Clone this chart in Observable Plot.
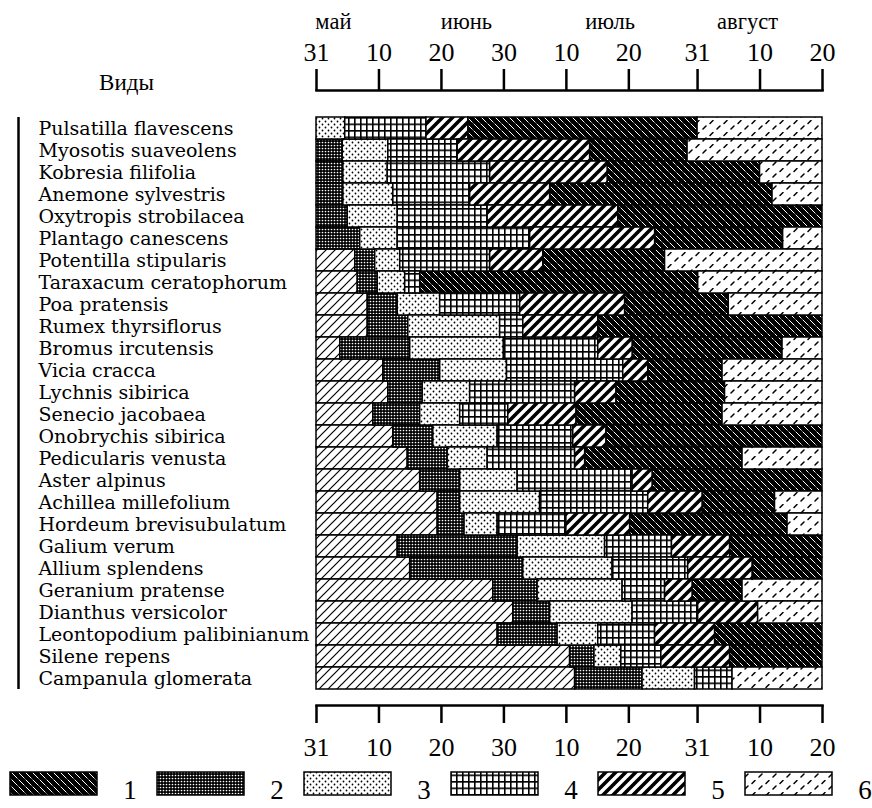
<!DOCTYPE html>
<html><head><meta charset="utf-8">
<script src="https://cdn.jsdelivr.net/npm/d3@7"></script>
<script src="https://cdn.jsdelivr.net/npm/@observablehq/plot@0.6"></script>
<style>body{margin:0;background:#fff;} #chart svg{display:block}</style>
</head><body><div id="chart"></div>
<script>
// Species (rows, top to bottom)
const species = [
  "Pulsatilla flavescens","Myosotis suaveolens","Kobresia filifolia","Anemone sylvestris",
  "Oxytropis strobilacea","Plantago canescens","Potentilla stipularis","Taraxacum ceratophorum",
  "Poa pratensis","Rumex thyrsiflorus","Bromus ircutensis","Vicia cracca","Lychnis sibirica",
  "Senecio jacobaea","Onobrychis sibirica","Pedicularis venusta","Aster alpinus",
  "Achillea millefolium","Hordeum brevisubulatum","Galium verum","Allium splendens",
  "Geranium pratense","Dianthus versicolor","Leontopodium palibinianum","Silene repens",
  "Campanula glomerata"
];
// Phase sequence of each species (0 = unmarked vegetation hatching, 1..6 = legend phases)
const phaseSeq = [
  [3,4,5,1,6],[2,3,4,5,1,6],[2,3,4,5,1,6],[2,3,4,5,1,6],[2,3,4,5,1],[2,3,4,5,1,6],
  [0,2,3,4,5,1,6],[0,2,3,4,1,6],[0,2,3,4,5,1,6],[0,2,3,4,5,1],[0,2,3,4,5,1,6],
  [0,2,3,4,5,1,6],[0,2,3,4,5,1,6],[0,2,3,4,5,1,6],[0,2,3,4,5,1],[0,2,3,4,5,1,6],
  [0,2,3,4,5,1],[0,2,3,4,5,1,6],[0,2,3,4,5,1,6],[0,2,3,4,5,1],[0,2,3,4,5,1],
  [0,2,3,4,5,1,6],[0,2,3,4,5,6],[0,2,3,4,5,1],[0,2,3,4,5,1],[0,2,3,4,6]
];
// End of each phase, days after 31 May (31 May = 0, 20 Aug = 81)
const phaseEnd = [
  [4.6,17.6,24.3,61,81],
  [4.2,11.5,22.6,43.8,59.4,81],
  [4.3,11.4,27.8,46.6,71,81],
  [4.3,12.3,24.6,37.4,73,81],
  [5,13,27.4,48.3,81],
  [7,13,34.2,54.2,74.7,81],
  [6.2,9.4,13.4,27.8,36.3,55.8,81],
  [6.6,9.8,14.2,16.6,61.1,81],
  [8.2,13,19.8,32.6,49.4,66,81],
  [8.2,14.7,29.4,33.1,45.1,81],
  [3.8,15,30,45.1,50.6,74.6,81],
  [10.7,19.8,30.5,49.1,53.1,65,81],
  [11.5,17,24.6,41.4,48,65.4,81],
  [9.1,16.6,23,30.7,41.6,65,81],
  [12.3,18.7,29,41.1,46.4,81],
  [14.6,21,27.4,41.4,43,68.2,81],
  [16.6,23,32.2,50.6,53.8,81],
  [19.4,23,35.8,53.1,61.8,73.4,81],
  [19.4,23.7,29,40,50.2,75.4,81],
  [13,32.2,46.2,56.9,66.2,81],
  [15,33.1,47.4,59.5,69.8,81],
  [28.3,35.4,49,55.8,60.2,68.2,81],
  [31.5,37.4,50.6,61.1,70.7,81],
  [29,38.6,45.1,54.2,63.8,81],
  [40.6,44.5,48.8,55.2,66.2,81],
  [41.4,52.2,60.6,66.6,81]
];
const tickDays = [0,10,20,30,40,50,61,71,81];
const tickLabels = ["31","10","20","30","10","20","31","10","20"];
const monthNames = ["май","июнь","июль","август"];
const monthDays = [2.7,24,47,69];
const legendKeys = ["1","2","3","4","5","6"];
const headerText = "Виды";

const segments = [];
species.forEach((s, i) => {
  let start = 0;
  phaseSeq[i].forEach((p, j) => {
    const end = phaseEnd[i][j];
    segments.push({species: s, phase: p, start, end});
    start = end;
  });
});
const labelOf = new Map(tickDays.map((d, i) => [d, tickLabels[i]]));
const months = monthDays.map((d, i) => ({day: d, name: monthNames[i]}));

const defs = `
<pattern id="ph0" patternUnits="userSpaceOnUse" width="9" height="9">
 <rect width="9" height="9" fill="#fff"/>
 <path d="M-1,1 l2,-2 M0,9 l9,-9 M8,10 l2,-2" stroke="#000" stroke-width="1.2"/>
</pattern>
<pattern id="ph1" patternUnits="userSpaceOnUse" width="7" height="7">
 <rect width="7" height="7" fill="#000"/>
 <path d="M0,0 L7,7 M-1,6 L1,8 M6,-1 L8,1" stroke="#fff" stroke-width="1" stroke-dasharray="5 1.5"/>
</pattern>
<pattern id="ph2" patternUnits="userSpaceOnUse" width="3" height="3">
 <rect width="3" height="3" fill="#000"/>
 <circle cx="1.5" cy="1.5" r="0.85" fill="#fff"/>
</pattern>
<pattern id="ph3" patternUnits="userSpaceOnUse" width="6" height="6">
 <rect width="6" height="6" fill="#fff"/>
 <circle cx="1.5" cy="1.5" r="0.9" fill="#000"/>
 <circle cx="4.5" cy="4.5" r="0.9" fill="#000"/>
</pattern>
<pattern id="ph4" patternUnits="userSpaceOnUse" width="6" height="6.5">
 <rect width="6" height="6.5" fill="#fff"/>
 <path d="M0,0.8 H6 M0.8,0 V6.5" stroke="#000" stroke-width="1.6"/>
</pattern>
<pattern id="ph5" patternUnits="userSpaceOnUse" width="10" height="10">
 <rect width="10" height="10" fill="#fff"/>
 <path d="M-3,3 l6,-6 M0,10 l10,-10 M7,13 l6,-6" stroke="#000" stroke-width="3.6"/>
</pattern>
<pattern id="ph6" patternUnits="userSpaceOnUse" width="14" height="12">
 <rect width="14" height="12" fill="#fff"/>
 <path d="M3,9 l3,-3 M10,3.5 l3,-3" stroke="#000" stroke-width="1.5" stroke-linecap="round"/>
</pattern>`;

const W = 872, H = 768;
const font = "'Liberation Serif', 'Times New Roman', serif";
const labelFont = "'DejaVu Serif', serif";
const chart = Plot.plot({
  width: W, height: H,
  marginLeft: 316, marginRight: 50, marginTop: 90, marginBottom: H - 705,
  style: {fontFamily: font, color: "#000", background: "#fff", overflow: "visible"},
  x: {domain: [0, 81], axis: null},
  y: {domain: species, padding: 0, insetTop: 22, insetBottom: 12, axis: null},
  marks: [
    ...[0,1,2,3,4,5,6].map(p => Plot.barX(segments.filter(d => d.phase === p), {
      x1: "start", x2: "end", y: "species", fill: `url(#ph${p})`, stroke: "#000", strokeWidth: 1.5
    })),
    Plot.axisX(tickDays, {anchor: "top", tickSize: 22, tickPadding: 8, tickFormat: d => labelOf.get(d), fontSize: 26, strokeWidth: 2.5}),
    Plot.axisX(tickDays, {anchor: "bottom", tickSize: 18, tickPadding: 14, tickFormat: d => labelOf.get(d), fontSize: 26, strokeWidth: 2.5}),
    Plot.frame({anchor: "top", strokeWidth: 2.5}),
    Plot.frame({anchor: "bottom", strokeWidth: 2.5}),
    Plot.text(months, {x: "day", text: "name", frameAnchor: "top", lineAnchor: "middle", dy: -69, fontSize: 22.5}),
    Plot.text(species, {y: d => d, text: d => d, frameAnchor: "left", textAnchor: "start", dx: -278, fontSize: 19, fontFamily: labelFont}),
    Plot.text([headerText], {text: d => d, frameAnchor: "top-left", textAnchor: "middle", lineAnchor: "middle", dx: -190, dy: -8, fontSize: 23}),
    Plot.ruleX([0], {y1: () => species[0], y2: () => species[species.length - 1], dx: -298, strokeWidth: 2.5})
  ]
});
d3.select(chart).insert("defs", ":first-child").html(defs);

const legend = Plot.plot({
  width: W, height: 40, margin: 0,
  style: {fontFamily: font, color: "#000", background: "#fff"},
  x: {type: "band", domain: legendKeys, range: [10, 10 + 6 * 147], padding: 0, axis: null},
  marks: [
    Plot.cell(legendKeys, {x: d => d, fill: d => `url(#ph${d})`, stroke: "#000", strokeWidth: 1.5, insetRight: 60, insetTop: 4, insetBottom: 13}),
    Plot.text(legendKeys, {x: d => d, text: d => d, dx: 46, dy: 2, fontSize: 27})
  ]
});
document.getElementById("chart").append(chart, legend);
</script>
</body></html>
